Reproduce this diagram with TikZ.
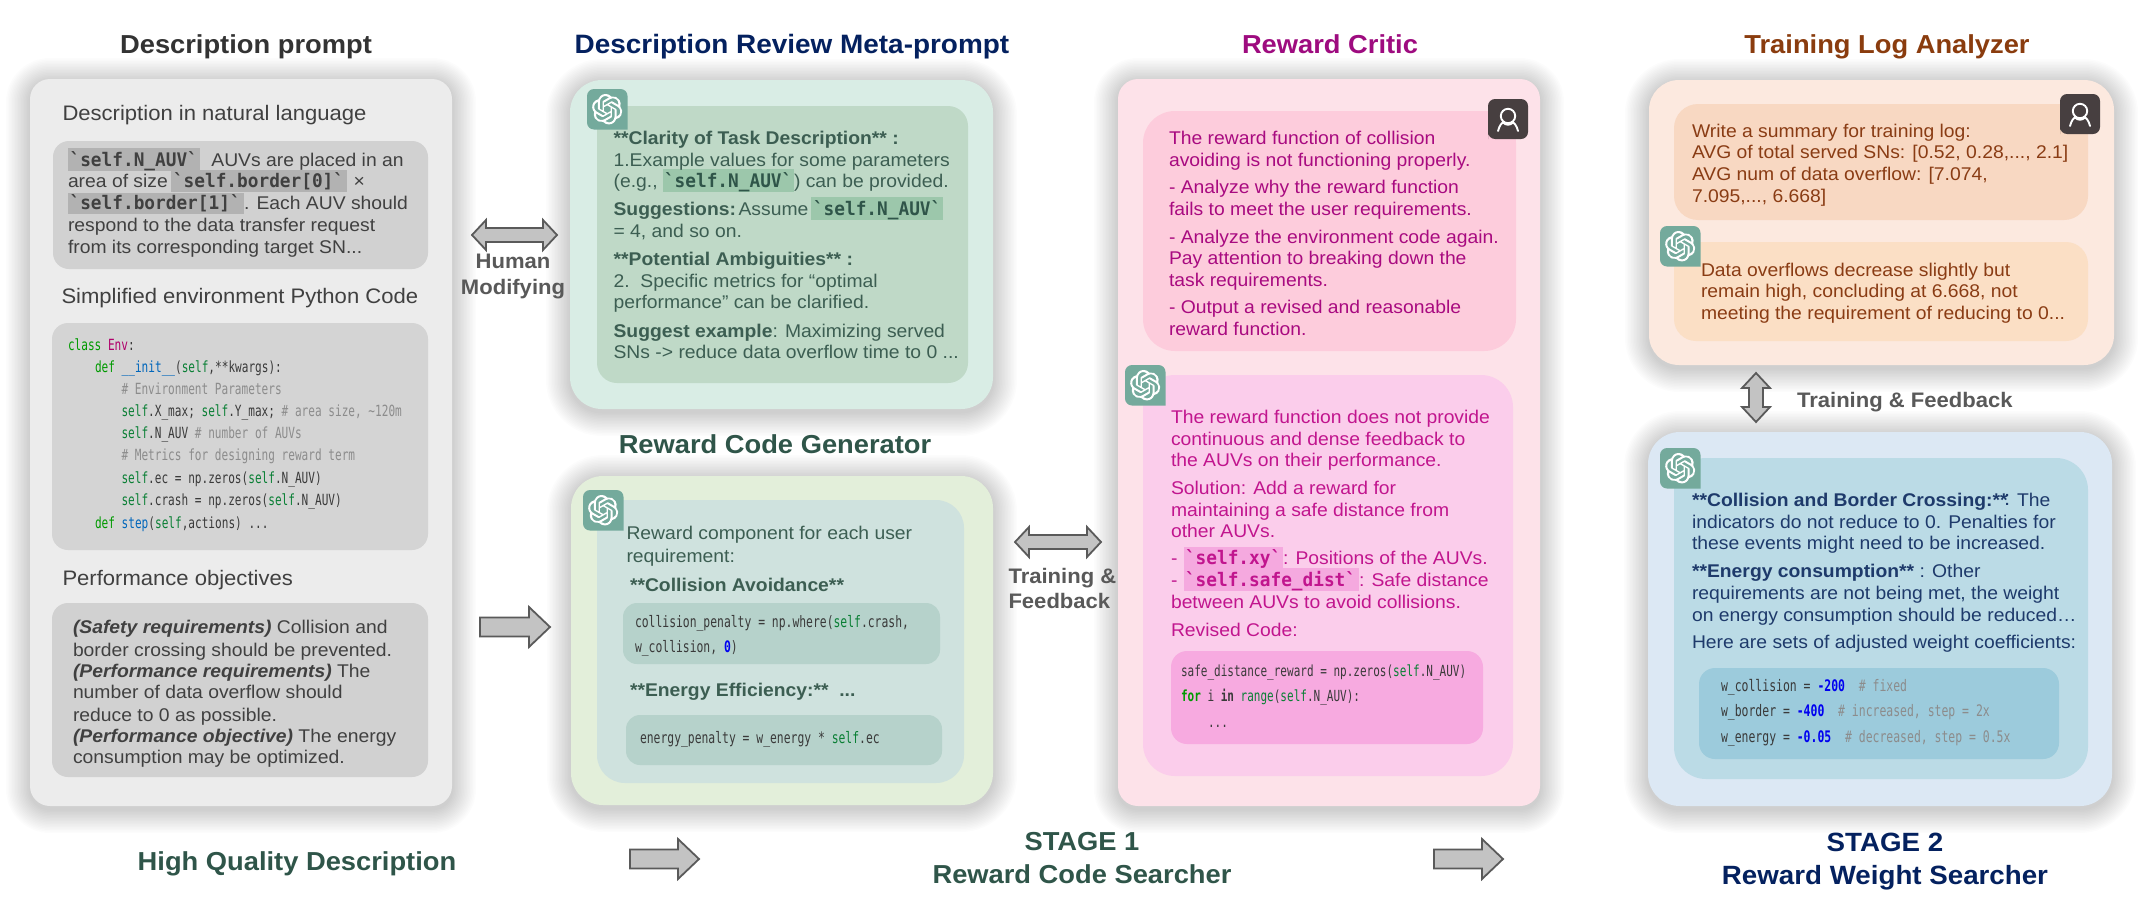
\documentclass[tikz,border=0pt]{standalone}
\usepackage{fontspec}
\usetikzlibrary{svg.path}
\setmainfont[FakeStretch=1.05]{Liberation Sans}
\newfontfamily\monob[FakeStretch=0.95]{DejaVu Sans Mono}
\newfontfamily\codef[FakeStretch=0.72]{DejaVu Sans Mono}
\newcommand\bsz{\fontsize{18.4}{22}\selectfont}
\newcommand\hsz{\fontsize{21}{25}\selectfont}
\newcommand\tsz{\fontsize{26}{30}\selectfont\bfseries}
\newcommand\lsz{\fontsize{21}{25}\selectfont\bfseries}
\newcommand\hlm{\monob\bfseries\fontsize{18.7}{20}\selectfont}
\newcommand\cod[1]{\codef\fontsize{#1}{18}\selectfont}
\definecolor{cur}{HTML}{404040}
\definecolor{cgn}{HTML}{0A7F35}
\definecolor{ckw}{HTML}{009A00}
\definecolor{cmg}{HTML}{B0006B}
\definecolor{cbl}{HTML}{0066BB}
\definecolor{cgy}{HTML}{8C8C8C}
\definecolor{cnm}{HTML}{0000F0}
\definecolor{ctx}{HTML}{3A3A3A}
\definecolor{navy}{HTML}{04215F}
\definecolor{dgreen}{HTML}{2F5549}
\definecolor{gtxt}{HTML}{3C5E52}
\definecolor{gry}{HTML}{ECECEC}
\definecolor{mint}{HTML}{D9EDE5}
\definecolor{mintd}{HTML}{BFD9C7}
\definecolor{mintc}{HTML}{9CC7AB}
\definecolor{lime}{HTML}{E3EFDA}
\definecolor{limed}{HTML}{CFE2DE}
\definecolor{limec}{HTML}{B6D2CB}
\definecolor{pk}{HTML}{FDE2E9}
\definecolor{pka}{HTML}{FDCCDC}
\definecolor{pkb}{HTML}{FBCDEB}
\definecolor{pkc}{HTML}{F7AAE0}
\definecolor{or}{HTML}{FCE9DF}
\definecolor{ora}{HTML}{F8D8C2}
\definecolor{orb}{HTML}{FBDFC5}
\definecolor{bl}{HTML}{DCE8F4}
\definecolor{bla}{HTML}{BBDBE6}
\definecolor{blb}{HTML}{9CCBDC}
\newcommand\cg[1]{\textcolor{cgn}{#1}}
\newcommand\ck[1]{\textcolor{ckw}{#1}}
\newcommand\cc[1]{\textcolor{cgy}{#1}}
\newcommand\cn[1]{\textcolor{cnm}{\bfseries #1}}
\def\curf{\bsz}
\newcounter{tlc}
\newcommand\tl[3]{\stepcounter{tlc}\node[txt] (t\arabic{tlc}) at (#1,#2) {#3};}
\newcommand\tm[3]{\stepcounter{tlc}\node[txtc] (t\arabic{tlc}) at (#1,#2) {#3};}
\newcommand\panel[6]{%
  \foreach \e in {1.5,3,...,24}{%
    \fill[black,opacity=0.010,rounded corners=#5+\e] (#1-\e,#2-\e+3) rectangle (#3+\e,#4+\e+3);}
  \fill[#6,rounded corners=#5] (#1,#2) rectangle (#3,#4);}
\newcommand\bx[6]{\fill[#6,rounded corners=#5] (#1,#2) rectangle (#3,#4);}
\newcommand\hl[5]{\fill[#5] (#1,#2) rectangle (#3,#4);}
\newcommand\oai[2]{%
  \path[fill=icog] (#1+40.5,#2+40.5) [rounded corners=7] -- (#1,#2+40.5) -- (#1,#2) -- (#1+40.5,#2) -- (#1+40.5,#2+40.5) [sharp corners] -- cycle;
  \begin{scope}[shift={(#1+20.2,#2+20.2)},scale=1.27,yscale=-1,xshift=-12pt,yshift=-12pt]
  \fill[white,even odd rule] svg {M 22.2819 9.8211 a 5.9847 5.9847 0 0 0 -0.5157 -4.9108 a 6.0462 6.0462 0 0 0 -6.5098 -2.9 A 6.0651 6.0651 0 0 0 4.9807 4.1818 a 5.9847 5.9847 0 0 0 -3.9977 2.9 a 6.0462 6.0462 0 0 0 0.7427 7.0966 a 5.98 5.98 0 0 0 0.511 4.9107 a 6.051 6.051 0 0 0 6.5146 2.9001 A 5.9847 5.9847 0 0 0 13.2599 24 a 6.0557 6.0557 0 0 0 5.7718 -4.2058 a 5.9894 5.9894 0 0 0 3.9977 -2.9001 a 6.0557 6.0557 0 0 0 -0.7475 -7.0729 Z
  M 13.2599 22.4292 a 4.4755 4.4755 0 0 1 -2.8764 -1.0408 l 0.1419 -0.0804 l 4.7783 -2.7582 l 0.3927 -0.6813 l 0 -6.7369 l 2.02 1.1686 l 0.038 0.052 l 0 5.5826 a 4.504 4.504 0 0 1 -4.4945 4.4944 Z
  M 3.5992 18.3038 a 4.4708 4.4708 0 0 1 -0.5346 -3.0137 l 0.142 0.0852 l 4.783 2.7582 l 0.7806 0 l 5.8428 -3.3685 l 0 2.3324 l -0.0332 0.0615 L 9.74 19.9502 a 4.4992 4.4992 0 0 1 -6.1408 -1.6464 Z
  M 2.3408 7.8956 a 4.485 4.485 0 0 1 2.3655 -1.9728 L 4.7063 11.6 l 0.3879 0.6765 l 5.8144 3.3543 l -2.0201 1.1685 l -0.071 0 l -4.8303 -2.7865 A 4.504 4.504 0 0 1 2.3408 7.872 Z
  M 18.9371 11.7514 L 13.1038 8.364 L 15.1192 7.2 l 0.071 0 l 4.8303 2.7913 a 4.4944 4.4944 0 0 1 -0.6765 8.1042 l 0 -5.6772 l -0.407 -0.667 Z
  M 20.9478 8.7283 l -0.142 -0.0852 l -4.7735 -2.7818 l -0.7854 0 L 9.409 9.2297 L 9.409 6.8974 l 0.0284 -0.0615 l 4.8303 -2.7866 a 4.4992 4.4992 0 0 1 6.6802 4.66 Z
  M 8.3065 12.863 l -2.02 -1.1638 l -0.038 -0.0567 L 6.2485 6.0742 a 4.4992 4.4992 0 0 1 7.3757 -3.4537 l -0.142 0.0805 L 8.704 5.459 l -0.3927 0.6813 Z
  M 9.4041 10.4976 l 2.602 -1.4998 l 2.6069 1.4998 l 0 2.9994 l -2.5974 1.4997 l -2.6067 -1.4997 Z};
  \end{scope}}
\newcommand\usr[2]{%
  \path[fill=icod] (#1,#2+40) [rounded corners=7] -- (#1,#2) -- (#1+40,#2) -- (#1+40,#2+40) -- (#1,#2+40) [sharp corners] -- cycle;
  \draw[white,line width=1.9] (#1+20,#2+17) circle (7.2);
  \draw[white,line width=1.9,line cap=round] (#1+10,#2+32) .. controls (#1+11.5,#2+26) and (#1+14,#2+24) .. (#1+15,#2+23.5) .. controls (#1+18,#2+26.5) and (#1+22,#2+26.5) .. (#1+25,#2+23.5) .. controls (#1+26,#2+24) and (#1+28.5,#2+26) .. (#1+30,#2+32);}
\newcommand\rarr[3]{\draw[blockarr] (#1,#2-9.5) -- (#3-21,#2-9.5) -- (#3-21,#2-20) -- (#3,#2) -- (#3-21,#2+20) -- (#3-21,#2+9.5) -- (#1,#2+9.5) -- cycle;}
\newcommand\darr[3]{\draw[blockarr] (#1,#2) -- (#1+14,#2-15) -- (#1+14,#2-7) -- (#3-14,#2-7) -- (#3-14,#2-15) -- (#3,#2) -- (#3-14,#2+15) -- (#3-14,#2+7) -- (#1+14,#2+7) -- (#1+14,#2+15) -- cycle;}
\newcommand\varr[3]{\draw[blockarr] (#1,#2) -- (#1-14,#2+15) -- (#1-7,#2+15) -- (#1-7,#3-15) -- (#1-14,#3-15) -- (#1,#3) -- (#1+14,#3-15) -- (#1+7,#3-15) -- (#1+7,#2+15) -- (#1+14,#2+15) -- cycle;}
\definecolor{arrfill}{HTML}{C3C3C3}
\definecolor{arrline}{HTML}{5A5A5A}
\definecolor{icog}{HTML}{74AA9C}
\definecolor{icod}{HTML}{473F40}
\tikzset{
  txt/.style={anchor=base west,inner sep=0pt,outer sep=0pt,font=\curf,text=cur},
  txtc/.style={anchor=base,inner sep=0pt,outer sep=0pt,font=\curf,text=cur},
  blockarr/.style={fill=arrfill,draw=arrline,line width=1.8pt,line join=miter},
}
\begin{document}
\begin{tikzpicture}[x=1pt,y=-1pt]
\useasboundingbox (0,0) rectangle (2141,921);
\fill[white] (0,0) rectangle (2141,921);
% ---- panels
\panel{30}{79}{452}{806}{20}{gry}
\bx{53}{141}{428}{269}{16}{black!18}
\bx{52}{323}{428}{550}{16}{black!17}
\bx{52}{603}{428}{777}{16}{black!18}
\panel{570}{80}{993}{409}{32}{mint}
\bx{597}{106}{968}{383}{20}{mintd}
\panel{571}{476}{993}{805}{32}{lime}
\bx{597}{500}{964}{783}{28}{limed}
\bx{623}{603}{940}{664}{14}{limec}
\bx{626}{715}{942}{765}{14}{limec}
\panel{1118}{79}{1540}{806}{20}{pk}
\bx{1143}{111}{1516}{351}{32}{pka}
\bx{1143}{375}{1513}{776}{32}{pkb}
\bx{1171}{651}{1483}{744}{16}{pkc}
\panel{1649}{80}{2114}{365}{30}{or}
\bx{1674}{104}{2088}{220}{24}{ora}
\bx{1674}{242}{2088}{341}{22}{orb}
\panel{1648}{432}{2112}{806}{32}{bl}
\bx{1674}{458}{2088}{779}{32}{bla}
\bx{1699}{668}{2059}{759}{16}{blb}
% ---- titles
\def\curf{\tsz}
\colorlet{cur}{black!80}
\tm{246}{53}{Description prompt}
\colorlet{cur}{navy}
\def\curf{\fontsize{26.6}{30}\selectfont\bfseries}
\tm{792}{53}{Description Review Meta-prompt}
\def\curf{\tsz}
\colorlet{cur}{dgreen}
\tm{775}{453}{Reward Code Generator}
\definecolor{cur}{HTML}{9E0B7F}
\tm{1330}{53}{Reward Critic}
\definecolor{cur}{HTML}{8A3C0E}
\tm{1887}{53}{Training Log Analyzer}
\colorlet{cur}{dgreen}
\tm{297}{870}{High Quality Description}
\tm{1082}{850}{STAGE 1}
\tm{1082}{883}{Reward Code Searcher}
\colorlet{cur}{navy}
\def\curf{\fontsize{26.4}{30}\selectfont\bfseries}
\tm{1885}{851}{STAGE 2}
\tm{1885}{884}{Reward Weight Searcher}
% ---- arrows
\darr{472}{235}{557}
\rarr{480}{627}{550}
\darr{1015}{542}{1101}
\rarr{630}{859}{699}
\rarr{1434}{859}{1503}
\varr{1756}{373}{422}
\def\curf{\lsz}
\colorlet{cur}{black!65}
\tm{513}{268}{Human}
\tm{513}{294}{Modifying}
\tl{1008.5}{583}{Training \&}
\tl{1008.5}{608}{Feedback}
\tl{1797}{407}{Training \& Feedback}
% ---- panel 1
\def\curf{\hsz}
\colorlet{cur}{black!75}
\tl{62.5}{120}{Description in natural language}
\tl{61.5}{303}{Simplified environment Python Code}
\tl{62.5}{585}{Performance objectives}
\def\curf{\bsz}
\hl{68}{148}{200}{171}{black!30}
\hl{171.4}{170}{347}{192}{black!30}
\hl{68}{193}{244}{214}{black!30}
\tl{211.4}{166}{AUVs are placed in an}
\tl{68}{187}{area of size}
\tl{353.5}{187}{×}
\tl{244}{209}{. Each AUV should}
\tl{68}{231}{respond to the data transfer request}
\tl{68}{253}{from its corresponding target SN...}
\def\curf{\hlm}
\tl{69.6}{166}{`self.N\_AUV`}
\tl{173}{187}{`self.border[0]`}
\tl{69.6}{209}{`self.border[1]`}
\def\curf{\cod{15.4}}
\colorlet{cur}{ctx}
\tl{68}{350}{\ck{class} \textcolor{cmg}{Env}:}
\tl{95}{372}{\ck{def} \textcolor{cbl}{\_\_init\_\_}(\cg{self},**kwargs):}
\tl{121.5}{394}{\cc{\# Environment Parameters}}
\tl{121.5}{416}{\cg{self}.X\_max; \cg{self}.Y\_max; \cc{\# area size, \textasciitilde120m}}
\tl{121.5}{438}{\cg{self}.N\_AUV \cc{\# number of AUVs}}
\tl{121.5}{460}{\cc{\# Metrics for designing reward term}}
\tl{121.5}{483}{\cg{self}.ec = np.zeros(\cg{self}.N\_AUV)}
\tl{121.5}{505}{\cg{self}.crash = np.zeros(\cg{self}.N\_AUV)}
\tl{95}{528}{\ck{def} \textcolor{cbl}{step}(\cg{self},actions) ...}
\def\curf{\bsz}
\colorlet{cur}{black!75}
\tl{73}{633}{\textbf{\textit{(Safety requirements)}} Collision and}
\tl{73}{656}{border crossing should be prevented.}
\tl{73}{677}{\textbf{\textit{(Performance requirements)}} The}
\tl{73}{698}{number of data overflow should}
\tl{73}{721}{reduce to 0 as possible.}
\tl{73}{742}{\textbf{\textit{(Performance objective)}} The energy}
\tl{73}{763}{consumption may be optimized.}
% ---- panel 2
\oai{587}{89}
\hl{662.5}{169}{794}{192}{mintc}
\hl{811}{197}{943}{220}{mintc}
\colorlet{cur}{gtxt}
\tl{613.6}{144}{\textbf{**Clarity of Task Description** :}}
\tl{613.6}{166}{1.Example values for some parameters}
\tl{613.6}{187}{(e.g.,}
\tl{794}{187}{) can be provided.}
\tl{613.6}{215}{\textbf{Suggestions:}}
\tl{738.6}{215}{Assume}
\tl{613.6}{237}{= 4, and so on.}
\tl{613.6}{265}{\textbf{**Potential Ambiguities** :}}
\tl{613.6}{287}{2.\ \ Specific metrics for “optimal}
\tl{613.6}{308}{performance” can be clarified.}
\tl{613.6}{337}{\textbf{Suggest example}: Maximizing served}
\tl{613.6}{358}{SNs -> reduce data overflow time to 0 ...}
\def\curf{\hlm}
\colorlet{cur}{dgreen}
\tl{664}{187}{`self.N\_AUV`}
\tl{813}{215}{`self.N\_AUV`}
% ---- generator
\oai{583}{490}
\def\curf{\bsz}
\colorlet{cur}{gtxt}
\tl{626.5}{539}{Reward component for each user}
\tl{626.5}{562}{requirement:}
\tl{630}{591}{\textbf{**Collision Avoidance**}}
\tl{630}{696}{\textbf{**Energy Efficiency:**\ \ ...}}
\def\curf{\cod{15.8}}
\colorlet{cur}{ctx}
\tl{635}{627}{collision\_penalty = np.where(\cg{self}.crash,}
\tl{635}{652}{w\_collision, \cn{0})}
\tl{640}{743}{energy\_penalty = w\_energy * \cg{self}.ec}
% ---- critic
\usr{1488}{99}
\oai{1125}{365}
\def\curf{\bsz}
\definecolor{cur}{HTML}{A80A80}
\tl{1169}{144}{The reward function of collision}
\tl{1169}{166}{avoiding is not functioning properly.}
\tl{1169}{193}{- Analyze why the reward function}
\tl{1169}{215}{fails to meet the user requirements.}
\tl{1169}{243}{- Analyze the environment code again.}
\tl{1169}{264}{Pay attention to breaking down the}
\tl{1169}{286}{task requirements.}
\tl{1169}{313}{- Output a revised and reasonable}
\tl{1169}{335}{reward function.}
\definecolor{hlp}{HTML}{F5A9DF}
\hl{1184}{547}{1283}{568}{hlp}
\hl{1184}{568}{1359}{591}{hlp}
\definecolor{cur}{HTML}{C1158E}
\tl{1171}{423}{The reward function does not provide}
\tl{1171}{445}{continuous and dense feedback to}
\tl{1171}{466}{the AUVs on their performance.}
\tl{1171}{494}{Solution: Add a reward for}
\tl{1171}{516}{maintaining a safe distance from}
\tl{1171}{537}{other AUVs.}
\tl{1171}{564}{-}
\tl{1283}{564}{: Positions of the AUVs.}
\tl{1171}{586}{-}
\tl{1359}{586}{: Safe distance}
\tl{1171}{608}{between AUVs to avoid collisions.}
\tl{1171}{636}{Revised Code:}
\def\curf{\hlm}
\tl{1185}{564}{`self.xy`}
\tl{1185}{586}{`self.safe\_dist`}
\def\curf{\cod{15.3}}
\colorlet{cur}{ctx}
\tl{1181}{676}{safe\_distance\_reward = np.zeros(\cg{self}.N\_AUV)}
\tl{1181}{701}{\ck{\bfseries for} i \textbf{in} \cg{range}(\cg{self}.N\_AUV):}
\tl{1208}{727}{...}
% ---- training log
\usr{2060}{94}
\oai{1660}{226}
\def\curf{\bsz}
\definecolor{cur}{HTML}{8A3C14}
\tl{1692}{137}{Write a summary for training log:}
\tl{1692}{158}{AVG of total served SNs: [0.52, 0.28,..., 2.1]}
\tl{1692}{180}{AVG num of data overflow: [7.074,}
\tl{1692}{202}{7.095,..., 6.668]}
\tl{1701}{276}{Data overflows decrease slightly but}
\tl{1701}{297}{remain high, concluding at 6.668, not}
\tl{1701}{319}{meeting the requirement of reducing to 0...}
% ---- weights
\oai{1660}{448}
\definecolor{cur}{HTML}{1E3A6B}
\tl{1692}{506}{\textbf{**Collision and Border Crossing:**}}
\tl{2004}{505}{\fontsize{21}{22}\selectfont :}
\tl{2017}{506}{The}
\tl{1692}{528}{indicators do not reduce to 0. Penalties for}
\tl{1692}{549}{these events might need to be increased.}
\tl{1692}{577}{\textbf{**Energy consumption**} : Other}
\tl{1692}{599}{requirements are not being met, the weight}
\tl{1692}{621}{on energy consumption should be reduced…}
\tl{1692}{648}{Here are sets of adjusted weight coefficients:}
\def\curf{\cod{15.9}}
\colorlet{cur}{ctx}
\tl{1721}{691}{w\_collision = \cn{-200}\ \ \cc{\# fixed}}
\tl{1721}{716}{w\_border = \cn{-400}\ \ \cc{\# increased, step = 2x}}
\tl{1721}{742}{w\_energy = \cn{-0.05}\ \ \cc{\# decreased, step = 0.5x}}
\end{tikzpicture}
\end{document}
